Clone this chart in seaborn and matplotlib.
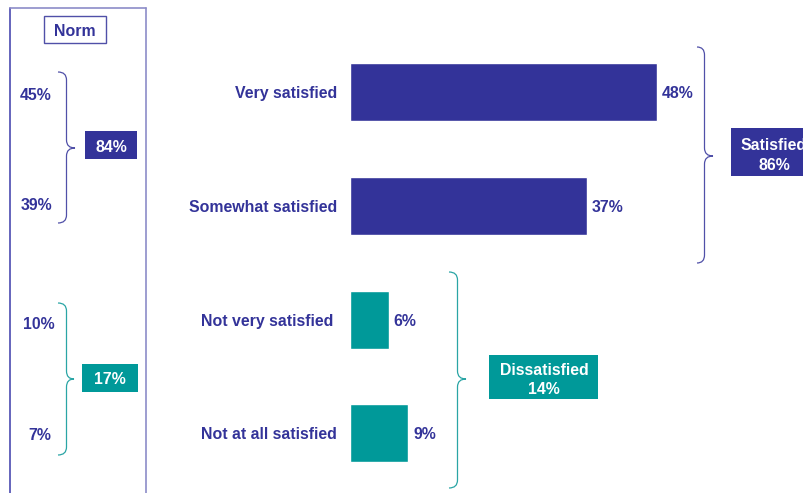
import matplotlib
matplotlib.use("Agg")
import matplotlib.pyplot as plt
import seaborn as sns
import pandas as pd
from matplotlib.path import Path
from matplotlib.patches import PathPatch, Rectangle
from matplotlib.lines import Line2D
from matplotlib.transforms import Affine2D, ScaledTranslation

# ---- data ----
categories = ["Very satisfied", "Somewhat satisfied", "Not very satisfied", "Not at all satisfied"]
values = [48, 37, 6, 9]
groups = ["Satisfied", "Satisfied", "Dissatisfied", "Dissatisfied"]
net_labels = ["Satisfied", "Dissatisfied"]
net_values = [86, 14]
norm_values = [45, 39, 10, 7]
norm_totals = [84, 17]

# ---- style ----
BLUE = "#333399"
TEAL = "#009999"
BRACE_BLUE = "#5050a8"
BRACE_TEAL = "#2aa5a5"
FS = 11.4

sns.set_style("white")
plt.rcParams["font.family"] = ["Liberation Sans", "DejaVu Sans"]
plt.rcParams["font.weight"] = "bold"

W, H = 804, 493
fig = plt.figure(figsize=(W / 100, H / 100), dpi=100)
# transform working in pixels, origin at the top-left corner
T = Affine2D().scale(1 / W, -1 / H).translate(0, 1) + fig.transFigure

# ---- bar chart ----
px_per_pct = 6.39
row_px = 113.8
first_row_px = 92
left_px = 350.5
ax = fig.add_axes([left_px / W, 0, (W - left_px) / W, 1])
ax.set_facecolor("none")

df = pd.DataFrame({"category": categories, "value": values, "group": groups})
sns.barplot(data=df, x="value", y="category", hue="group",
            palette={"Satisfied": BLUE, "Dissatisfied": TEAL},
            orient="h", width=58 / row_px, errorbar=None, saturation=1,
            legend=False, ax=ax)

ax.set_xlim(0, (W - left_px) / px_per_pct)
ax.set_ylim((H - first_row_px) / row_px, -first_row_px / row_px)
for s in ax.spines.values():
    s.set_visible(False)
ax.set_xticks([])
ax.set_xlabel("")
ax.set_ylabel("")
ax.set_yticks(range(len(categories)))
ax.set_yticklabels(categories, color=BLUE, fontsize=FS, fontweight="bold",
                   va="center_baseline")
ax.tick_params(axis="y", length=0, pad=9.7)
# the third label sits a little further left
lab = ax.get_yticklabels()[2]
lab.set_transform(lab.get_transform() + ScaledTranslation(-0.04, 0, fig.dpi_scale_trans))

for cont in ax.containers:
    texts = ax.bar_label(cont, fmt="%d%%", padding=3.6, color=BLUE, fontsize=FS,
                         fontweight="bold")
    for t in texts:
        t.set_va("center_baseline")


# ---- helpers in pixel space ----
def brace(xe, xl, xt, yt, ym, yb, color, r=8):
    verts = [(xe, yt), (xl, yt), (xl, yt + r), (xl, ym - r), (xl, ym), (xt, ym),
             (xl, ym), (xl, ym + r), (xl, yb - r), (xl, yb), (xe, yb)]
    codes = [Path.MOVETO, Path.CURVE3, Path.CURVE3, Path.LINETO, Path.CURVE3, Path.CURVE3,
             Path.CURVE3, Path.CURVE3, Path.LINETO, Path.CURVE3, Path.CURVE3]
    fig.add_artist(PathPatch(Path(verts, codes), fill=False, edgecolor=color,
                             lw=0.9, transform=T))


def box(x0, y0, x1, y1, face, edge=None, lw=0):
    fig.add_artist(Rectangle((x0, y0), x1 - x0, y1 - y0, facecolor=face,
                             edgecolor=edge if edge else face, lw=lw, transform=T))


def label(x, y, s, color, ha="center"):
    fig.text(x, y, s, transform=T, color=color, fontsize=FS, fontweight="bold",
             ha=ha, va="center_baseline")


# ---- net groups on the right ----
brace(697, 704.5, 713, 47, 156, 263, BRACE_BLUE)
box(731, 128, 817, 176, BLUE)
label(774, 144, net_labels[0], "white")
label(774, 164, f"{net_values[0]}%", "white")

brace(449, 457.5, 466, 272, 379, 488, BRACE_TEAL)
box(489, 355, 598, 399, TEAL)
label(544, 369, net_labels[1], "white")
label(544, 388, f"{net_values[1]}%", "white")

# ---- norm panel on the left ----
fig.add_artist(Line2D([10, 10], [8, 493], color="#4a4ab0", lw=1.2, transform=T))
fig.add_artist(Line2D([10, 146], [8, 8], color="#8c8cc8", lw=1.2, transform=T))
fig.add_artist(Line2D([146, 146], [8, 493], color="#8c8cc8", lw=1.2, transform=T))
box(44, 16, 106, 43, "white", edge="#5050a8", lw=1)
label(75, 30, "Norm", BLUE)

norm_x = [36, 36, 39, 40]
norm_y = [94, 204, 323, 434]
for x, y, v in zip(norm_x, norm_y, norm_values):
    label(x, y, f"{v}%", BLUE)

brace(58, 66.5, 75, 72, 148, 223, BRACE_BLUE)
box(85, 131, 137, 159, BLUE)
label(111, 146, f"{norm_totals[0]}%", "white")

brace(58, 66.5, 74, 303, 379, 455, BRACE_TEAL)
box(82, 364, 138, 392, TEAL)
label(110, 378, f"{norm_totals[1]}%", "white")

fig.savefig("out.png", dpi=100)
